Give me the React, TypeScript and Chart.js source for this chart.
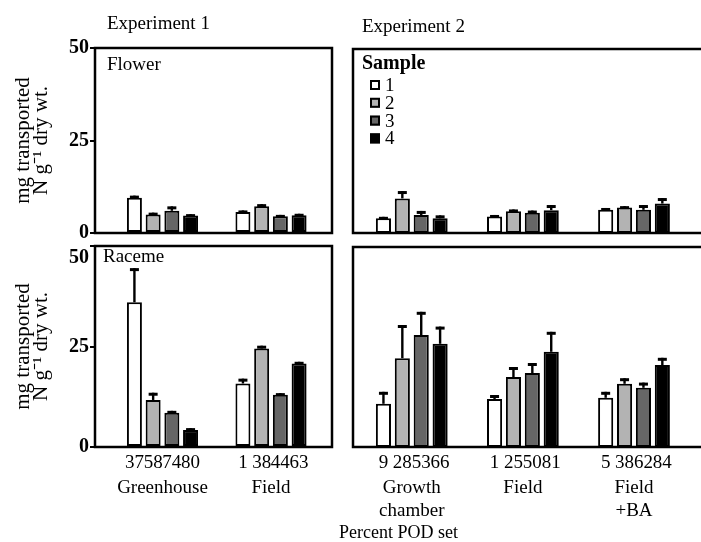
import React, { useEffect, useRef } from 'react';
import { Chart, registerables } from 'chart.js';

Chart.register(...registerables);

const FONT = "'Liberation Serif', 'Times New Roman', Times, serif";

// ---- shared labels ----
const sampleNames = ['1', '2', '3', '4'];
const sampleFills = ['#ffffff', '#b3b3b3', '#666666', '#000000'];
const yTitleLines = ['mg transported', 'N g\u207B\u00B9 dry wt.'];
const xTitle = 'Percent POD set';
const legendTitle = 'Sample';

// ---- Experiment 1 ----
const exp1Title = 'Experiment 1';
const exp1Groups: (string | string[])[] = ['Greenhouse', 'Field'];
// percent pod set, one row per sample (groups in columns)
const exp1PodSet = [
  [37, 1],
  [58, 38],
  [74, 44],
  [80, 63],
];
const exp1Flower = [
  [9.5, 5.7],
  [5.0, 7.2],
  [6.0, 4.5],
  [4.7, 4.8],
];
const exp1FlowerErr = [
  [0.6, 0.4],
  [0.5, 0.6],
  [1.2, 0.4],
  [0.4, 0.4],
];
const exp1Raceme = [
  [36.0, 15.8],
  [11.7, 24.5],
  [8.5, 13.0],
  [4.2, 20.8],
];
const exp1RacemeErr = [
  [8.5, 1.2],
  [1.8, 0.7],
  [0.5, 0.4],
  [0.5, 0.4],
];

// ---- Experiment 2 ----
const exp2Title = 'Experiment 2';
const exp2Groups: (string | string[])[] = [['Growth', 'chamber'], 'Field', ['Field', '+BA']];
const exp2PodSet = [
  [9, 1, 5],
  [28, 25, 38],
  [53, 50, 62],
  [66, 81, 84],
];
const exp2Flower = [
  [4.0, 4.5, 6.3],
  [9.4, 5.9, 6.9],
  [4.9, 5.5, 6.3],
  [4.0, 6.2, 8.0],
];
const exp2FlowerErr = [
  [0.4, 0.4, 0.5],
  [2.0, 0.5, 0.4],
  [1.1, 0.6, 1.3],
  [0.8, 1.4, 1.5],
];
const exp2Raceme = [
  [10.8, 12.0, 12.3],
  [22.2, 17.5, 15.8],
  [28.0, 18.5, 14.8],
  [25.8, 23.8, 20.5],
];
const exp2RacemeErr = [
  [3.0, 1.0, 1.5],
  [8.3, 2.5, 1.4],
  [5.8, 2.5, 1.3],
  [4.3, 5.0, 1.8],
];

const yMin = 0;
const yMax = 50;
const yStep = 25;

type PanelCfg = {
  key: string;
  groups: (string | string[])[];
  values: number[][];
  errors: number[][];
  pods?: number[][];
  title?: string;
  titleDx?: number;
  titleDy?: number;
  label: string;
  labelBold?: boolean;
  labelDx: number;
  labelDy: number;
  legend?: boolean;
  openRight?: boolean;
  showY: boolean;
  shiftTopLabel?: boolean;
  showX: boolean;
  xTitle?: boolean;
  padding: { left: number; top: number; right: number; bottom: number };
  xMin: number;
  xMax: number;
  catPct: number;
  barPct: number;
};

function makeDecor(cfg: PanelCfg) {
  return {
    id: 'panelDecor_' + cfg.key,
    afterDatasetsDraw(chart: any) {
      const ctx = chart.ctx as CanvasRenderingContext2D;
      const ys = chart.scales.y;
      const area = chart.chartArea;
      ctx.save();
      ctx.fillStyle = '#000';
      chart.data.datasets.forEach((ds: any, d: number) => {
        const meta = chart.getDatasetMeta(d);
        meta.data.forEach((bar: any, j: number) => {
          const v = ds.data[j].y;
          const top = ys.getPixelForValue(v + cfg.errors[d][j]);
          ctx.fillRect(bar.x - 1.2, top, 2.4, bar.y - top);
          ctx.fillRect(bar.x - 4.5, top, 9, 3);
          if (cfg.pods) {
            ctx.font = `19px ${FONT}`;
            ctx.textAlign = 'center';
            ctx.textBaseline = 'alphabetic';
            ctx.fillText(String(cfg.pods[d][j]), bar.x, area.bottom + 21);
          }
        });
      });
      ctx.restore();
    },
    afterDraw(chart: any) {
      const ctx = chart.ctx as CanvasRenderingContext2D;
      const a = chart.chartArea;
      ctx.save();
      ctx.strokeStyle = '#000';
      ctx.lineWidth = 2.5;
      if (cfg.openRight) {
        ctx.beginPath();
        ctx.moveTo(chart.width + 5, a.top);
        ctx.lineTo(a.left, a.top);
        ctx.lineTo(a.left, a.bottom);
        ctx.lineTo(chart.width + 5, a.bottom);
        ctx.stroke();
      } else {
        ctx.strokeRect(a.left, a.top, a.right - a.left, a.bottom - a.top);
      }
      ctx.fillStyle = '#000';
      ctx.textBaseline = 'alphabetic';
      ctx.textAlign = 'left';
      if (cfg.title) {
        ctx.font = `19px ${FONT}`;
        ctx.fillText(cfg.title, a.left + (cfg.titleDx || 0), a.top + (cfg.titleDy || 0));
      }
      ctx.font = `${cfg.labelBold ? 'bold 20px' : '19px'} ${FONT}`;
      ctx.fillText(cfg.label, a.left + cfg.labelDx, a.top + cfg.labelDy);
      if (cfg.legend) {
        chart.data.datasets.forEach((ds: any, i: number) => {
          const cy = a.top + 36 + i * 17.8;
          const sx = a.left + 17;
          ctx.fillStyle = ds.backgroundColor;
          ctx.fillRect(sx, cy - 5, 10, 10);
          ctx.strokeStyle = '#000';
          ctx.lineWidth = 2;
          ctx.strokeRect(sx + 1, cy - 4, 8, 8);
          ctx.fillStyle = '#000';
          ctx.font = `19px ${FONT}`;
          ctx.textBaseline = 'middle';
          ctx.fillText(ds.label, sx + 15, cy + 1);
        });
        ctx.textBaseline = 'alphabetic';
      }
      if (cfg.xTitle) {
        ctx.font = `18px ${FONT}`;
        ctx.textAlign = 'left';
        ctx.fillText(xTitle, a.left - 14, 538);
      }
      ctx.restore();
    },
  };
}

function buildConfig(cfg: PanelCfg): any {
  const datasets = cfg.values.map((row, s) => ({
    label: sampleNames[s],
    data: row.map((v, g) => ({ x: g, y: v })),
    backgroundColor: sampleFills[s],
    borderColor: '#000',
    borderWidth: 2,
    borderSkipped: false,
    categoryPercentage: cfg.catPct,
    barPercentage: cfg.barPct,
  }));
  return {
    type: 'bar',
    data: { datasets },
    options: {
      responsive: false,
      animation: false,
      events: [],
      layout: { padding: cfg.padding },
      plugins: { legend: { display: false }, tooltip: { enabled: false }, title: { display: false } },
      scales: {
        x: {
          type: 'linear',
          display: cfg.showX,
          offset: false,
          min: cfg.xMin,
          max: cfg.xMax,
          bounds: 'data',
          afterBuildTicks: (axis: any) => {
            axis.ticks = cfg.groups.map((_, i) => ({ value: i }));
          },
          afterFit: (axis: any) => {
            axis.height = cfg.showX ? 80 : 0;
          },
          grid: { display: false, drawTicks: false, offset: false },
          border: { display: false },
          ticks: {
            autoSkip: false,
            maxRotation: 0,
            minRotation: 0,
            padding: 30,
            color: '#000',
            font: { family: FONT, size: 19 },
            callback: (_v: any, i: number) => cfg.groups[i],
          },
        },
        y: {
          display: cfg.showY,
          min: yMin,
          max: yMax,
          afterFit: (axis: any) => {
            axis.width = cfg.showY ? 90 : 0;
          },
          grid: { drawOnChartArea: false, drawTicks: true, tickLength: 5, lineWidth: 2, color: '#000' },
          border: { display: false },
          title: {
            display: true,
            text: yTitleLines,
            color: '#000',
            font: { family: FONT, size: 21, lineHeight: 0.85 },
            padding: { top: 10, bottom: 0 },
          },
          ticks: {
            stepSize: yStep,
            padding: 1,
            color: '#000',
            font: { family: FONT, size: 20, weight: 'bold' },
            callback: (v: any) => (cfg.shiftTopLabel && v === yMax ? ['', String(v)] : String(v)),
          },
        },
      },
    },
    plugins: [makeDecor(cfg)],
  };
}

const leftX = { xMin: -0.622, xMax: 1.562, catPct: 0.69, barPct: 0.8 };
const rightX = { xMin: -0.529, xMax: 2.603, catPct: 0.68, barPct: 0.8 };

const panels: PanelCfg[] = [
  {
    key: 'tl',
    groups: exp1Groups,
    values: exp1Flower,
    errors: exp1FlowerErr,
    title: exp1Title,
    titleDx: 12,
    titleDy: -19,
    label: 'Flower',
    labelDx: 12,
    labelDy: 22,
    showY: true,
    showX: false,
    padding: { left: 5, top: 48, right: 369, bottom: 309 },
    ...leftX,
  },
  {
    key: 'bl',
    groups: exp1Groups,
    values: exp1Raceme,
    errors: exp1RacemeErr,
    pods: exp1PodSet,
    label: 'Raceme',
    labelDx: 8,
    labelDy: 16,
    showY: true,
    shiftTopLabel: true,
    showX: true,
    padding: { left: 5, top: 246, right: 369, bottom: 15 },
    ...leftX,
  },
  {
    key: 'tr',
    groups: exp2Groups,
    values: exp2Flower,
    errors: exp2FlowerErr,
    title: exp2Title,
    titleDx: 9,
    titleDy: -17,
    label: legendTitle,
    labelBold: true,
    labelDx: 9,
    labelDy: 20,
    legend: true,
    openRight: true,
    showY: false,
    showX: false,
    padding: { left: 353, top: 49, right: 0, bottom: 309 },
    ...rightX,
  },
  {
    key: 'br',
    groups: exp2Groups,
    values: exp2Raceme,
    errors: exp2RacemeErr,
    pods: exp2PodSet,
    label: '',
    labelDx: 8,
    labelDy: 16,
    openRight: true,
    showY: false,
    showX: true,
    xTitle: true,
    padding: { left: 353, top: 247, right: 0, bottom: 15 },
    ...rightX,
  },
];

function Panel({ cfg }: { cfg: PanelCfg }) {
  const ref = useRef<HTMLCanvasElement | null>(null);
  useEffect(() => {
    if (!ref.current) return;
    const chart = new Chart(ref.current, buildConfig(cfg));
    return () => chart.destroy();
  }, [cfg]);
  return (
    <canvas
      ref={ref}
      width={701}
      height={542}
      style={{ position: 'absolute', left: 0, top: 0, width: 701, height: 542 }}
    />
  );
}

export default function App() {
  return (
    <div
      style={{
        position: 'fixed',
        left: 0,
        top: 0,
        width: 701,
        height: 542,
        background: '#ffffff',
        overflow: 'hidden',
      }}
    >
      {panels.map((p) => (
        <Panel key={p.key} cfg={p} />
      ))}
    </div>
  );
}
